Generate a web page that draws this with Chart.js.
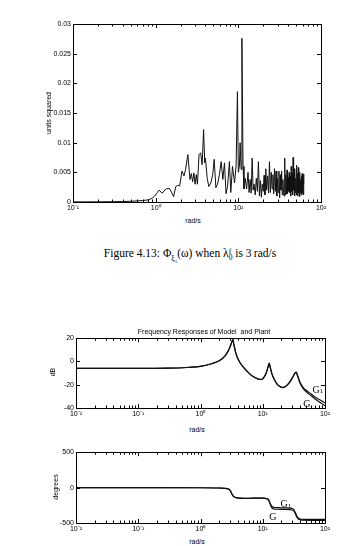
<!DOCTYPE html>
<html>
<head>
<meta charset="utf-8">
<script src="https://cdn.jsdelivr.net/npm/chart.js@4"></script>
<style>
body { margin: 0; width: 354px; height: 546px; background: #fff; position: relative; overflow: hidden; font-family: "Liberation Sans", Arial, sans-serif; color: #000; }
canvas { position: absolute; left: 0; }
.lbl { position: absolute; transform: translate(-50%, -50%); white-space: nowrap; font-size: 7px; }
.rot { transform: translate(-50%, -50%) rotate(-90deg); }
#caption { font-family: "Liberation Serif", "DejaVu Serif", serif; font-size: 11.5px; }
.ss { display: inline-block; vertical-align: -3px; line-height: 6px; font-size: 7.5px; text-align: left; }
</style>
</head>
<body>
<canvas id="psdChart" width="354" height="214" style="top:0"></canvas>
<canvas id="magChart" width="354" height="90" style="top:332px"></canvas>
<canvas id="phaseChart" width="354" height="90" style="top:446px"></canvas>

<div class="lbl rot" style="left:48px;top:113px">units squared</div>
<div class="lbl" style="left:193px;top:220px">rad/s</div>
<div class="lbl" id="caption" style="left:190px;top:256px">Figure 4.13: &Phi;<span class="ss" style="vertical-align:-4px">&xi;<sub style="font-size:5px">1</sub></span>(&omega;) when &lambda;<span class="ss">f<br>0</span> is 3&thinsp;rad/s</div>
<div class="lbl" style="left:204px;top:331px">Frequency Responses of Model&nbsp; and Plant</div>
<div class="lbl rot" style="left:52px;top:372px">dB</div>
<div class="lbl" style="left:197px;top:429px">rad/s</div>
<div class="lbl rot" style="left:55px;top:487px">degrees</div>
<div class="lbl" style="left:197px;top:541px">rad/s</div>

<script>
// Figure 4.13 - spectrum of xi_1 (rad/s, units squared)
const psdFreq = [
    0.1, 0.2, 0.3, 0.4, 0.5, 0.6, 0.7, 0.8, 0.9, 0.97,
    1.05, 1.1, 1.2, 1.33, 1.46, 1.55, 1.65, 1.75, 1.85, 1.95,
    2.08, 2.2, 2.3, 2.45, 2.6, 2.7, 2.8, 2.9, 3.0, 3.1,
    3.2, 3.35, 3.5, 3.65, 3.8, 3.92, 4.0, 4.2, 4.4, 4.65,
    4.9, 5.1, 5.35, 5.6, 5.9, 6.2, 6.5, 6.8, 7.1, 7.4,
    7.8, 8.1, 8.5, 9.0, 9.4, 9.75, 10.0, 10.3, 10.5, 10.8,
    11.05, 11.4, 11.7, 12.1, 12.6, 13.1, 13.5, 13.9, 14.3, 14.7,
    15.1, 15.5, 16, 16.5, 17, 17.5, 18, 18.5, 19, 19.5,
    20, 20.5, 21, 21.5, 22, 22.6, 23.2, 23.8, 24.4, 25,
    25.6, 26.2, 26.8, 27.4, 28, 28.6, 29.2, 29.8, 30.4, 31,
    31.6, 32.2, 32.8, 33.4, 34, 34.6, 35.2, 35.8, 36.4, 37,
    37.6, 38.2, 38.8, 39.4, 40, 40.6, 41.2, 41.8, 42.4, 43,
    43.6, 44.2, 44.8, 45.4, 46, 46.6, 47.2, 47.8, 48.4, 49,
    49.6, 50.2, 50.8, 51.4, 52, 52.6, 53.2, 53.8, 54.4, 55,
    55.6, 56.2, 56.8, 57.4, 58, 58.6, 59.2, 59.8, 60.4, 61,
    61.6, 62
];
const psdValue = [
    0.00002, 0.00003, 0.00005, 0.00008, 0.00012, 0.00018, 0.00025, 0.00035, 0.0006, 0.001,
    0.0016, 0.002, 0.0015, 0.0022, 0.0023, 0.0017, 0.0009, 0.0026, 0.0028, 0.0027,
    0.0052, 0.0044, 0.0055, 0.008, 0.0038, 0.0048, 0.0034, 0.0049, 0.003, 0.0046,
    0.003, 0.008, 0.0083, 0.0063, 0.0122, 0.0066, 0.0074, 0.004, 0.0026, 0.0032,
    0.0046, 0.0072, 0.0024, 0.003, 0.0046, 0.0068, 0.0038, 0.0066, 0.0014, 0.0026,
    0.0068, 0.0016, 0.006, 0.0032, 0.0062, 0.0186, 0.005, 0.006, 0.01, 0.0055,
    0.0276, 0.006, 0.0022, 0.004, 0.0022, 0.005, 0.0016, 0.0038, 0.0015, 0.0074,
    0.002, 0.003, 0.0012, 0.004, 0.0018, 0.0068, 0.001, 0.0036, 0.0008, 0.003,
    0.0018, 0.0045, 0.0012, 0.0056, 0.002, 0.0044, 0.0015, 0.0068, 0.0016, 0.005,
    0.0022, 0.0046, 0.0014, 0.0056, 0.0018, 0.0052, 0.001, 0.004, 0.0016, 0.0052,
    0.0007, 0.0046, 0.002, 0.0052, 0.0012, 0.0038, 0.0016, 0.001, 0.0074, 0.0012,
    0.0046, 0.0014, 0.0054, 0.0014, 0.0042, 0.0018, 0.005, 0.0016, 0.0044, 0.001,
    0.006, 0.0018, 0.0048, 0.0012, 0.0075, 0.002, 0.0056, 0.001, 0.0054, 0.0016,
    0.004, 0.0012, 0.0062, 0.0018, 0.0048, 0.001, 0.0058, 0.0016, 0.0042, 0.0009,
    0.005, 0.0016, 0.0038, 0.0012, 0.0044, 0.0018, 0.0048, 0.0014, 0.0046, 0.0012,
    0.0047, 0.003
];
const psdXTicks = [0.1, 1, 10, 100];
const psdYTicks = [0, 0.005, 0.01, 0.015, 0.02, 0.025, 0.03];

// Frequency responses: G = plant, G1 = model
const magFreq = [0.01, 0.1, 0.3, 0.6, 1, 1.5, 2, 2.5, 2.9, 3.2, 3.3, 3.45, 3.7, 4.2, 5, 6, 7, 8.5, 9.5, 10.5,
    11.5, 12.2, 12.7, 13.2, 14, 15.5, 17, 19, 21, 24, 27, 30, 33, 34.5, 36, 40, 45, 50, 60, 70, 85, 100];
const magG = [-6, -6, -5.8, -5.2, -4.2, -2, 0.6, 5, 11, 17, 19, 14, 7, 0, -5.5, -10, -13, -15.2, -15.5, -13.5,
    -9, -4.5, -1.5, -5, -10.5, -16, -19.5, -21.8, -22.6, -21, -18, -14, -10, -9.3, -12, -19, -23.5, -26, -29.5, -32.5, -35.5, -38];
const magG1 = [-6, -6, -5.8, -5.2, -4.2, -2, 0.6, 5, 11, 17, 19, 14, 7, 0, -5.5, -10, -13, -15.2, -15.5, -13.5,
    -9, -4.5, -1.5, -5, -10.5, -16, -19.5, -21.6, -22.3, -20.8, -17.8, -13.8, -9.8, -9.1, -11.6, -18.4, -22.6, -24.8, -28, -30.8, -33.3, -35.5];

const phaseFreq = [0.01, 0.1, 1, 2, 2.7, 3.0, 3.2, 3.4, 3.7, 4.2, 5, 7, 10, 11.5, 12.5, 13.2, 14, 15, 17, 22,
    28, 31, 33, 35, 37, 40, 45, 60, 100];
const phaseG = [0, 0, -2, -6, -15, -40, -90, -125, -142, -150, -152, -150, -148, -155, -180, -240, -285, -302, -306, -308,
    -312, -325, -360, -410, -440, -455, -460, -462, -462];
const phaseG1 = [0, 0, -2, -6, -15, -40, -90, -125, -142, -150, -152, -150, -148, -155, -175, -225, -262, -280, -284, -286,
    -290, -305, -345, -395, -428, -443, -448, -450, -450];

const bodeXTicks = [0.01, 0.1, 1, 10, 100];
const magYTicks = [-40, -20, 0, 20];
const phaseYTicks = [-500, 0, 500];

const SUP = { '-2': '⁻²', '-1': '⁻¹', '0': '⁰', '1': '¹', '2': '²' };
const tickFont = { family: '"Liberation Sans", Arial, sans-serif', size: 7 };

function toPoints(xs, ys) {
    return xs.map((x, i) => ({ x: x, y: ys[i] }));
}

// box round the plot area with inward MATLAB-style ticks
const frameTicks = {
    id: 'frameTicks',
    afterDatasetsDraw(chart) {
        const { ctx, chartArea: a, scales: { x, y } } = chart;
        ctx.save();
        ctx.strokeStyle = '#000';
        ctx.lineWidth = 1;
        ctx.strokeRect(Math.round(a.left) + 0.5, Math.round(a.top) + 0.5, Math.round(a.width), Math.round(a.height));
        ctx.beginPath();
        const e0 = Math.round(Math.log10(x.min)), e1 = Math.round(Math.log10(x.max));
        for (let e = e0; e < e1; e++) {
            for (let m = 1; m <= 9; m++) {
                const px = Math.round(x.getPixelForValue(m * Math.pow(10, e))) + 0.5;
                const len = m === 1 ? 4 : 2.5;
                ctx.moveTo(px, a.bottom); ctx.lineTo(px, a.bottom - len);
                ctx.moveTo(px, a.top); ctx.lineTo(px, a.top + len);
            }
        }
        y.ticks.forEach(t => {
            const py = Math.round(y.getPixelForValue(t.value)) + 0.5;
            ctx.moveTo(a.left, py); ctx.lineTo(a.left + 4, py);
            ctx.moveTo(a.right, py); ctx.lineTo(a.right - 4, py);
        });
        ctx.stroke();
        ctx.restore();
    }
};

// "G" / "G1" curve labels placed in data coordinates
const curveLabels = {
    id: 'curveLabels',
    afterDatasetsDraw(chart, args, opts) {
        if (!opts.items) return;
        const { ctx, scales: { x, y } } = chart;
        ctx.save();
        ctx.fillStyle = '#000';
        ctx.textBaseline = 'middle';
        opts.items.forEach(it => {
            const px = x.getPixelForValue(it.x), py = y.getPixelForValue(it.y);
            ctx.font = '10px "Liberation Serif", serif';
            ctx.textAlign = 'center';
            ctx.fillText(it.text, px, py);
            if (it.sub) {
                const w = ctx.measureText(it.text).width;
                ctx.font = '7px "Liberation Serif", serif';
                ctx.textAlign = 'left';
                ctx.fillText(it.sub, px + w / 2, py + 1.5);
            }
        });
        ctx.restore();
    }
};

function makeChart(id, datasets, o) {
    const ctx = document.getElementById(id).getContext('2d');
    return new Chart(ctx, {
        type: 'line',
        data: { datasets: datasets },
        options: {
            responsive: false,
            animation: false,
            devicePixelRatio: 1,
            layout: { padding: { left: 0, top: o.padTop, right: o.padRight, bottom: 0 } },
            plugins: { legend: { display: false }, tooltip: { enabled: false }, curveLabels: { items: o.labels } },
            elements: { point: { radius: 0 } },
            scales: {
                x: {
                    type: 'logarithmic',
                    min: o.xTicks[0],
                    max: o.xTicks[o.xTicks.length - 1],
                    grid: { display: false, drawTicks: false },
                    border: { display: false },
                    afterBuildTicks: s => { s.ticks = o.xTicks.map(v => ({ value: v })); },
                    afterFit: s => { s.height = o.xHeight; },
                    ticks: {
                        autoSkip: false, maxRotation: 0, padding: 2, color: '#000', font: tickFont,
                        callback: v => '10' + SUP[String(Math.round(Math.log10(v)))]
                    }
                },
                y: {
                    min: o.yTicks[0],
                    max: o.yTicks[o.yTicks.length - 1],
                    grid: { display: false, drawTicks: false },
                    border: { display: false },
                    afterBuildTicks: s => { s.ticks = o.yTicks.map(v => ({ value: v })); },
                    afterFit: s => { s.width = o.yWidth; },
                    ticks: {
                        padding: 2, color: '#000', font: tickFont,
                        callback: v => String(parseFloat(v.toFixed(3)))
                    }
                }
            }
        },
        plugins: [frameTicks, curveLabels]
    });
}

const lineStyle = { borderColor: '#111', borderWidth: 1, pointRadius: 0, tension: 0, fill: false };

makeChart('psdChart', [
    Object.assign({ data: toPoints(psdFreq, psdValue) }, lineStyle)
], { padTop: 24, padRight: 33, xHeight: 12, yWidth: 73, xTicks: psdXTicks, yTicks: psdYTicks });

makeChart('magChart', [
    Object.assign({ data: toPoints(magFreq, magG) }, lineStyle, { borderWidth: 1.2, cubicInterpolationMode: 'monotone' }),
    Object.assign({ data: toPoints(magFreq, magG1) }, lineStyle, { borderWidth: 1.2, cubicInterpolationMode: 'monotone' })
], {
    padTop: 5, padRight: 29, xHeight: 14, yWidth: 76, xTicks: bodeXTicks, yTicks: magYTicks,
    labels: [{ text: 'G', sub: '1', x: 72, y: -24.5 }, { text: 'G', x: 51, y: -36.5 }]
});

makeChart('phaseChart', [
    Object.assign({ data: toPoints(phaseFreq, phaseG) }, lineStyle, { borderWidth: 1.2, cubicInterpolationMode: 'monotone' }),
    Object.assign({ data: toPoints(phaseFreq, phaseG1) }, lineStyle, { borderWidth: 1.2, cubicInterpolationMode: 'monotone' })
], {
    padTop: 6, padRight: 29, xHeight: 13, yWidth: 76, xTicks: bodeXTicks, yTicks: phaseYTicks,
    labels: [{ text: 'G', sub: '1', x: 22, y: -240 }, { text: 'G', x: 14.6, y: -415 }]
});
</script>
</body>
</html>
